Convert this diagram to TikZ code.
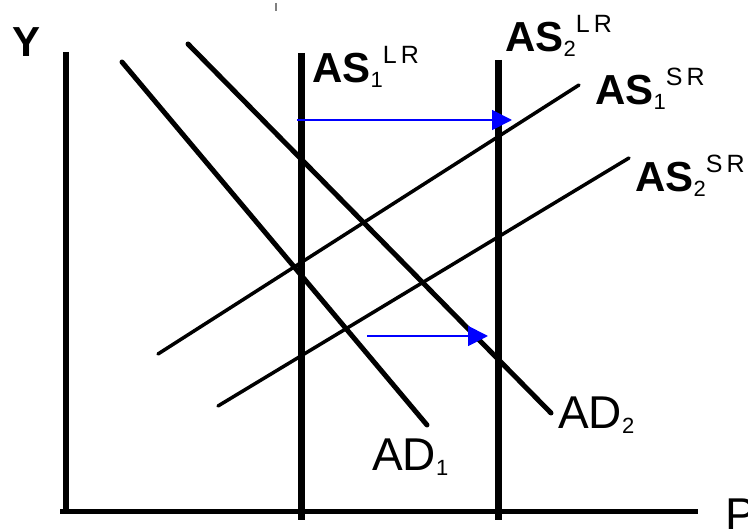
\documentclass[tikz,border=0pt]{standalone}
\usepackage{fontspec}
\setmainfont{Liberation Sans}
\usetikzlibrary{arrows.meta}
\newcommand\curvelab[3]{{\fontsize{42}{42}\selectfont\bfseries #1}{\fontsize{22}{22}\selectfont\raisebox{-5pt}{#2}}{\fontsize{25}{25}\selectfont\raisebox{19pt}{#3}}}
\newcommand\adlab[2]{{\fontsize{46}{46}\selectfont #1}{\fontsize{22}{22}\selectfont\raisebox{-5pt}{#2}}}
\begin{document}
\begin{tikzpicture}[x=1pt,y=-1pt,
  axisline/.style={line width=5pt},
  lrline/.style={line width=7pt},
  adline/.style={line width=5pt,line cap=round},
  srline/.style={line width=3.5pt,line cap=round},
  shiftarrow/.style={draw={rgb,255:red,0;green,0;blue,255},line width=1.8pt,-{Triangle[length=20pt,width=20pt]}},
  lab/.style={anchor=base west,inner sep=0pt}]
\useasboundingbox (0,0) rectangle (748,529);
% axes
\coordinate (ytop) at (66,52);
\coordinate (ybot) at (66,514);
\coordinate (xl) at (60,512);
\coordinate (xr) at (698,512);
\draw[line width=6pt] (ytop) -- (ybot);
\draw[axisline] (xl) -- (xr);
% long-run supply
\coordinate (lr1t) at (301,53);
\coordinate (lr1b) at (301,520);
\coordinate (lr2t) at (498,60);
\coordinate (lr2b) at (498,520);
\draw[lrline] (lr1t) -- (lr1b);
\draw[lrline] (lr2t) -- (lr2b);
% aggregate demand
\coordinate (ad1s) at (122,62);
\coordinate (ad1e) at (427,425);
\coordinate (ad2s) at (188,44);
\coordinate (ad2e) at (551,413);
\draw[adline] (ad1s) -- (ad1e);
\draw[adline] (ad2s) -- (ad2e);
% short-run supply
\coordinate (sr1s) at (158,354);
\coordinate (sr1e) at (579,85);
\coordinate (sr2s) at (218,406);
\coordinate (sr2e) at (629,158);
\draw[srline] (sr1s) -- (sr1e);
\draw[srline] (sr2s) -- (sr2e);
% shift arrows
\coordinate (a1s) at (297,120);
\coordinate (a1e) at (512,120);
\coordinate (a2s) at (367,336);
\coordinate (a2e) at (488,336);
\draw[shiftarrow] (a1s) -- (a1e);
\draw[shiftarrow] (a2s) -- (a2e);
% stray mark
\coordinate (m1) at (276,3);
\coordinate (m2) at (276,11);
\draw[line width=1.5pt,gray] (m1) -- (m2);
% labels
\node[lab] (ylab) at (12,57) {\fontsize{42}{42}\selectfont\bfseries Y};
\node[lab] (plab) at (725,531) {\fontsize{46}{46}\selectfont P};
\node[lab] (as1lr) at (312,83) {\curvelab{AS}{1}{L\,R}};
\node[lab] (as2lr) at (505,52) {\curvelab{AS}{2}{L\,R}};
\node[lab] (as1sr) at (595,105) {\curvelab{AS}{1}{S\,R}};
\node[lab] (as2sr) at (635,192) {\curvelab{AS}{2}{S\,R}};
\node[lab] (ad2lab) at (558,429) {\adlab{AD}{2}};
\node[lab] (ad1lab) at (372,471) {\adlab{AD}{1}};
\end{tikzpicture}
\end{document}
